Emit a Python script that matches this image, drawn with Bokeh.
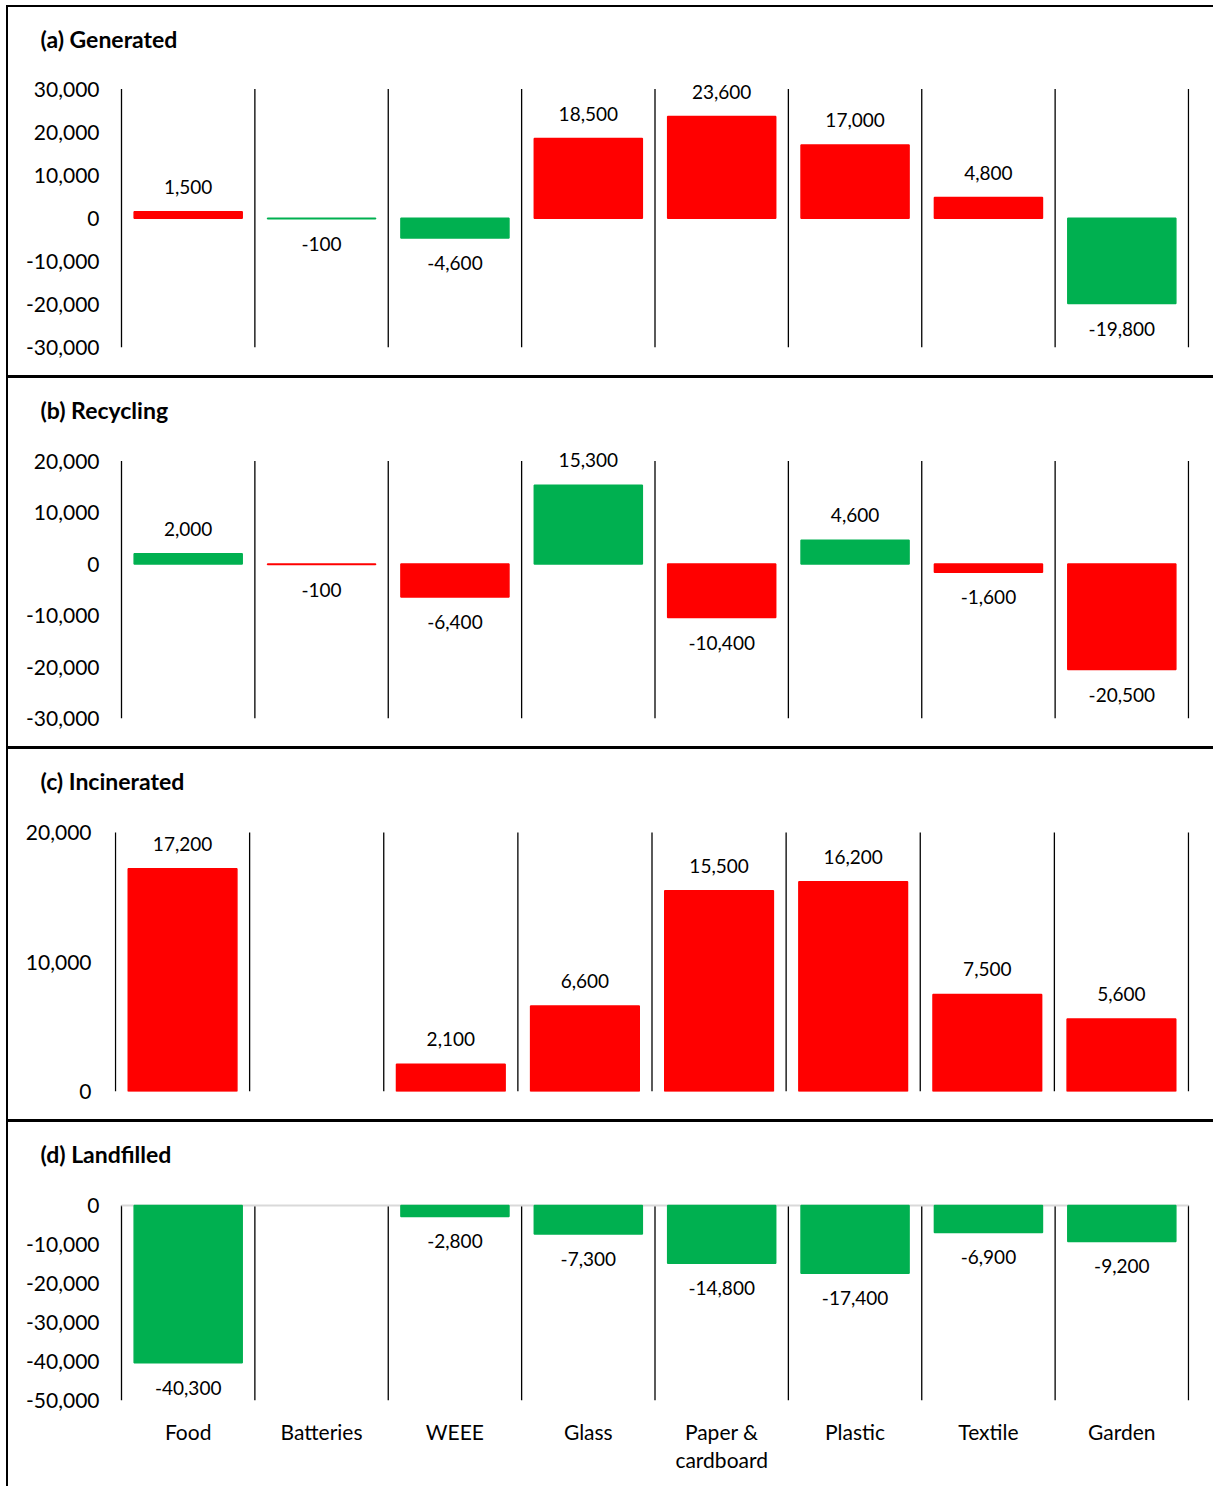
from bokeh.plotting import figure
from bokeh.models import (ColumnDataSource, FixedTicker, NumeralTickFormatter,
                          Div, LinearAxis)
from bokeh.core.properties import value
from bokeh.layouts import column, row
from bokeh.embed import file_html
from bokeh.resources import INLINE

# Change in tonnes per waste stream
categories = ["Food", "Batteries", "WEEE", "Glass", "Paper &\ncardboard",
              "Plastic", "Textile", "Garden"]
generated = [1500, -100, -4600, 18500, 23600, 17000, 4800, -19800]
recycling = [2000, -100, -6400, 15300, -10400, 4600, -1600, -20500]
incinerated = [17200, None, 2100, 6600, 15500, 16200, 7500, 5600]
landfilled = [-40300, None, -2800, -7300, -14800, -17400, -6900, -9200]

ticks_generated = [-30000, -20000, -10000, 0, 10000, 20000, 30000]
ticks_recycling = [-30000, -20000, -10000, 0, 10000, 20000]
ticks_incinerated = [0, 10000, 20000]
ticks_landfilled = [-50000, -40000, -30000, -20000, -10000, 0]

RED = "#FF0000"
GREEN = "#00B050"
FONT = "Lato"
FIG_W = 1205
BORDER_L = 106   # frame starts 106 px into each figure
BORDER_R = 24
FRAME_W = FIG_W - BORDER_L - BORDER_R
FRAME_TOP = 60   # room above the axis range for value labels


def make_panel(title, values, ticks, up_color, down_color, height, tick_top,
               span_px, inset_left, label_gap, show_categories=False,
               zero_line=False):
    n = len(categories)
    y_start, y_end = ticks[0], ticks[-1]
    bottom = int(round(height - tick_top - span_px))
    frame_h = height - FRAME_TOP - bottom
    per_px = (y_end - y_start) / span_px
    y_top = y_start + frame_h * per_px
    # the category band may start a few pixels inside the frame
    unit = (FRAME_W - inset_left - 1) / n
    x0 = -inset_left / unit
    x1 = n + 1 / unit
    p = figure(width=FIG_W, height=height, output_backend="svg",
               toolbar_location=None, x_range=(x0, x1),
               y_range=(y_start, y_top), x_axis_location=None,
               min_border_left=BORDER_L, min_border_right=BORDER_R,
               min_border_top=FRAME_TOP, min_border_bottom=bottom)
    p.outline_line_color = None
    p.background_fill_color = "white"
    p.border_fill_color = "white"
    p.xgrid.grid_line_color = None
    p.ygrid.grid_line_color = None

    # category separators over the axis range
    edges = list(range(n + 1))
    p.segment(x0=edges, y0=[y_start] * len(edges), x1=edges,
              y1=[y_end] * len(edges), line_color="black", line_width=1.3)

    if zero_line:
        p.segment(x0=[0], y0=[0], x1=[n], y1=[0], line_color="#D9D9D9",
                  line_width=2)

    xs, tops, colors, labels, offs = [], [], [], [], []
    for i, v in enumerate(values):
        if v is None:
            continue
        xs.append(i + 0.5)
        tops.append(v)
        colors.append(up_color if v > 0 else down_color)
        labels.append(f"{v:,}")
        offs.append(-25 if v > 0 else 25)
    src = ColumnDataSource(dict(x=xs, top=tops, color=colors, label=labels,
                                off=offs))
    p.vbar(x="x", top="top", bottom=0, width=0.81, fill_color="color",
           line_color="color", line_width=1.5, source=src)
    p.text(x="x", y="top", text="label", y_offset="off", source=src,
           text_align="center", text_baseline="middle",
           text_font=value(FONT), text_font_size="19px", text_color="black")

    ax = p.yaxis[0]
    ax.ticker = FixedTicker(ticks=ticks, minor_ticks=[])
    ax.formatter = NumeralTickFormatter(format="0,0")
    ax.axis_line_color = None
    ax.major_tick_line_color = None
    ax.minor_tick_line_color = None
    ax.major_tick_out = 0
    ax.major_label_standoff = label_gap
    ax.major_label_text_font = FONT
    ax.major_label_text_font_size = "21px"
    ax.major_label_text_color = "black"

    if show_categories:
        xa = LinearAxis(ticker=FixedTicker(
            ticks=[i + 0.5 for i in range(n)], minor_ticks=[]))
        xa.major_label_overrides = {i + 0.5: c for i, c in enumerate(categories)}
        xa.axis_line_color = None
        xa.major_tick_line_color = None
        xa.minor_tick_line_color = None
        xa.major_tick_out = 0
        xa.major_label_standoff = 18
        xa.major_label_text_font = FONT
        xa.major_label_text_font_size = "21px"
        xa.major_label_text_line_height = 1.15
        xa.major_label_text_color = "black"
        p.add_layout(xa, "below")

    p.title.text = title
    p.title.text_font = FONT
    p.title.text_font_style = "bold"
    p.title.text_font_size = "23px"
    p.title.text_color = "black"
    p.title.align = "left"
    p.title.offset = -74
    p.title.standoff = 29
    return p


pa = make_panel("(a) Generated", generated, ticks_generated, RED, GREEN,
                368, 81.5, 258.5, 7, 15)
pb = make_panel("(b) Recycling", recycling, ticks_recycling, GREEN, RED,
                368, 82.5, 257.5, 7, 15)
pc = make_panel("(c) Incinerated", incinerated, ticks_incinerated, RED, GREEN,
                370, 83, 259, 1, 23)
pd = make_panel("(d) Landfilled", landfilled, ticks_landfilled, RED, GREEN,
                364, 83, 195, 7, 15, show_categories=True, zero_line=True)


def bar(w, h, color="black"):
    return Div(text="", width=w, height=h, margin=0,
               styles={"background-color": color})


panels = column([bar(FIG_W, 2), pa, bar(FIG_W, 3), pb, bar(FIG_W, 3), pc,
                 bar(FIG_W, 3), pd], spacing=0, margin=0)
layout = column([bar(1213, 5, "white"),
                 row([bar(6, 1481, "white"), bar(2, 1481), panels],
                     spacing=0, margin=0)], spacing=0, margin=0)

open("out.html", "w").write(file_html(layout, INLINE))
